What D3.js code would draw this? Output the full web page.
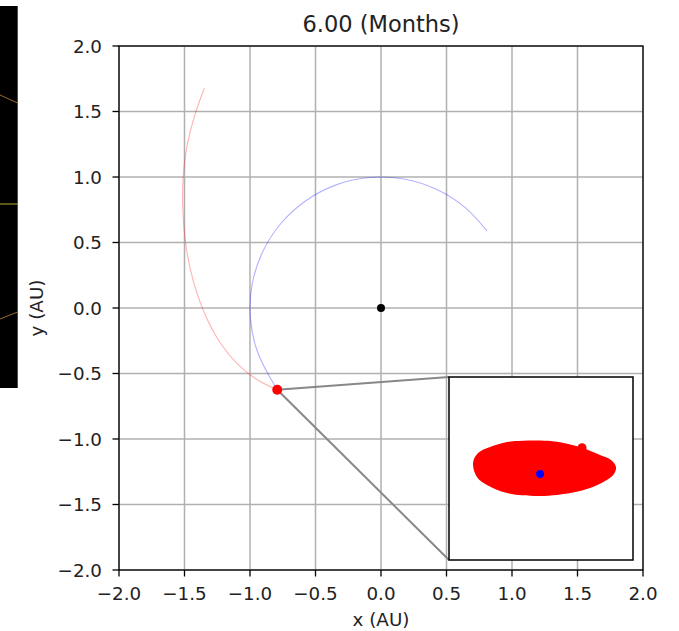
<!DOCTYPE html>
<html>
<head>
<meta charset="utf-8">
<script src="https://cdn.jsdelivr.net/npm/d3@7"></script>
<style>
  html, body { margin: 0; padding: 0; background: #fff; }
  svg { display: block; font-family: "DejaVu Sans", sans-serif; }
</style>
</head>
<body>
<svg id="chart" width="679" height="631"></svg>
<script>
// ---- data ----
const titleText = "6.00 (Months)";
const xLabel = "x (AU)";
const yLabel = "y (AU)";
const xTicks = [-2.0, -1.5, -1.0, -0.5, 0.0, 0.5, 1.0, 1.5, 2.0];
const yTicks = [-2.0, -1.5, -1.0, -0.5, 0.0, 0.5, 1.0, 1.5, 2.0];

// Earth orbit path (blue), x / y in AU
const earthX = [0.809, 0.643, 0.423, 0.174, -0.087, -0.342, -0.574, -0.766, -0.906, -0.985, -0.996, -0.940, -0.792];
const earthY = [0.588, 0.766, 0.906, 0.985, 0.996, 0.940, 0.819, 0.643, 0.423, 0.174, -0.087, -0.342, -0.624];

// Spacecraft trajectory (red), x / y in AU
const craftX = [-1.349, -1.413, -1.459, -1.490, -1.510, -1.514, -1.493, -1.454, -1.404, -1.324, -1.225, -1.100, -0.942, -0.792];
const craftY = [1.677, 1.498, 1.334, 1.181, 1.002, 0.799, 0.506, 0.290, 0.112, -0.092, -0.269, -0.422, -0.550, -0.624];

// Sun and current position
const sun = [0.0, 0.0];
const current = [-0.792, -0.624];

// Inset (zoomed view, inset units -1..1): particle cloud outline, bump, Earth
const cloudX = [-0.739, -0.685, -0.554, -0.370, -0.196, -0.011, 0.174, 0.424, 0.641, 0.761, 0.815, 0.793, 0.696, 0.533, 0.348, -0.011, -0.370, -0.587, -0.696];
const cloudY = [0.060, 0.169, 0.235, 0.290, 0.304, 0.306, 0.293, 0.235, 0.148, 0.093, 0.016, -0.060, -0.137, -0.213, -0.262, -0.301, -0.268, -0.180, -0.093];
const bump = [0.446, 0.228];
const insetEarth = [-0.01, -0.06];

// ---- drawing ----
const svg = d3.select("#chart");
const L = 119, R = 643, T = 46, B = 570;
const x = d3.scaleLinear().domain([-2, 2]).range([L, R]);
const y = d3.scaleLinear().domain([-2, 2]).range([B, T]);
const fmt = d3.format(".1f");

// decorative dark strip on the left
const strip = svg.append("g");
strip.append("rect").attr("x", 0).attr("y", 6).attr("width", 17.7).attr("height", 382).attr("fill", "#000");
strip.append("line").attr("x1", 0).attr("y1", 95).attr("x2", 17.7).attr("y2", 103).attr("stroke", "#9a6a2a").attr("stroke-width", 1);
strip.append("line").attr("x1", 0).attr("y1", 204).attr("x2", 17.7).attr("y2", 204).attr("stroke", "#b8b030").attr("stroke-width", 1);
strip.append("line").attr("x1", 0).attr("y1", 319).attr("x2", 17.7).attr("y2", 312).attr("stroke", "#9a6a2a").attr("stroke-width", 1);

// grid
const grid = svg.append("g");
xTicks.forEach(t => grid.append("line").attr("x1", x(t)).attr("x2", x(t)).attr("y1", T).attr("y2", B)
  .attr("stroke", "#b0b0b0").attr("stroke-width", 1.5));
yTicks.forEach(t => grid.append("line").attr("y1", y(t)).attr("y2", y(t)).attr("x1", L).attr("x2", R)
  .attr("stroke", "#b0b0b0").attr("stroke-width", 1.5));

// paths
const line = d3.line().x(d => x(d[0])).y(d => y(d[1])).curve(d3.curveCatmullRom.alpha(0.5));
svg.append("path").datum(earthX.map((v, i) => [v, earthY[i]])).attr("d", line)
  .attr("fill", "none").attr("stroke", "#0000ff").attr("stroke-opacity", 0.3).attr("stroke-width", 1.1);
svg.append("path").datum(craftX.map((v, i) => [v, craftY[i]])).attr("d", line)
  .attr("fill", "none").attr("stroke", "#ff0000").attr("stroke-opacity", 0.3).attr("stroke-width", 1.1);

// inset box position
const iL = 449, iR = 633, iT = 377, iB = 560;

// connector lines
svg.append("line").attr("x1", x(current[0])).attr("y1", y(current[1])).attr("x2", iL).attr("y2", iT)
  .attr("stroke", "#888").attr("stroke-width", 2);
svg.append("line").attr("x1", x(current[0])).attr("y1", y(current[1])).attr("x2", iL).attr("y2", iB)
  .attr("stroke", "#888").attr("stroke-width", 2);

// sun and current position
svg.append("circle").attr("cx", x(sun[0])).attr("cy", y(sun[1])).attr("r", 4).attr("fill", "#000");
svg.append("circle").attr("cx", x(current[0])).attr("cy", y(current[1])).attr("r", 5).attr("fill", "#ff0000");

// spines and ticks
const ax = svg.append("g");
ax.append("rect").attr("x", L).attr("y", T).attr("width", R - L).attr("height", B - T)
  .attr("fill", "none").attr("stroke", "#000").attr("stroke-width", 1.3);
xTicks.forEach(t => {
  ax.append("line").attr("x1", x(t)).attr("x2", x(t)).attr("y1", B).attr("y2", B + 6.5).attr("stroke", "#000").attr("stroke-width", 1.3);
  ax.append("text").attr("x", x(t)).attr("y", 600).attr("text-anchor", "middle")
    .attr("font-size", 18.3).attr("fill", "#222").text(fmt(t));
});
yTicks.forEach(t => {
  ax.append("line").attr("y1", y(t)).attr("y2", y(t)).attr("x1", L - 6.5).attr("x2", L).attr("stroke", "#000").attr("stroke-width", 1.3);
  ax.append("text").attr("x", 102).attr("y", y(t) + 6.7).attr("text-anchor", "end")
    .attr("font-size", 18.3).attr("fill", "#222").text(fmt(t));
});

// labels and title
svg.append("text").attr("x", (L + R) / 2).attr("y", 626).attr("text-anchor", "middle")
  .attr("font-size", 18.3).attr("fill", "#222").text(xLabel);
svg.append("text").attr("transform", `translate(43,${(T + B) / 2}) rotate(-90)`).attr("text-anchor", "middle")
  .attr("font-size", 18.3).attr("fill", "#222").text(yLabel);
svg.append("text").attr("x", (L + R) / 2).attr("y", 32).attr("text-anchor", "middle")
  .attr("font-size", 22.5).attr("fill", "#222").text(titleText);

// inset
const xi = d3.scaleLinear().domain([-1, 1]).range([iL, iR]);
const yi = d3.scaleLinear().domain([-1, 1]).range([iB, iT]);
const inset = svg.append("g");
inset.append("rect").attr("x", iL).attr("y", iT).attr("width", iR - iL).attr("height", iB - iT).attr("fill", "#fff");
const defs = svg.append("defs");
defs.append("filter").attr("id", "soft").append("feGaussianBlur").attr("stdDeviation", 0.7);
const cloud = inset.append("g").attr("filter", "url(#soft)");
const closed = d3.line().x(d => xi(d[0])).y(d => yi(d[1])).curve(d3.curveCatmullRomClosed.alpha(0.5));
cloud.append("path").datum(cloudX.map((v, i) => [v, cloudY[i]])).attr("d", closed).attr("fill", "#ff0000");
cloud.append("circle").attr("cx", xi(bump[0])).attr("cy", yi(bump[1])).attr("r", 4.5).attr("fill", "#ff0000");
inset.append("circle").attr("cx", xi(insetEarth[0])).attr("cy", yi(insetEarth[1])).attr("r", 4).attr("fill", "#0000ff");
inset.append("rect").attr("x", iL).attr("y", iT).attr("width", iR - iL).attr("height", iB - iT)
  .attr("fill", "none").attr("stroke", "#000").attr("stroke-width", 1.5);
</script>
</body>
</html>
